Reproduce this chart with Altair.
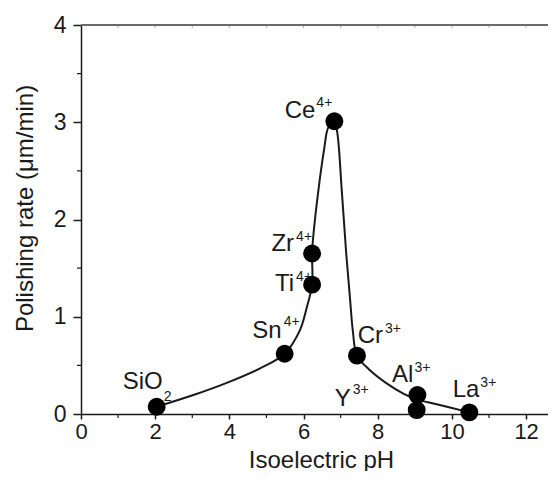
import altair as alt
import pandas as pd

# ---- data ----
names = ["SiO2", "Sn", "Ti", "Zr", "Ce", "Cr", "Al", "Y", "La"]
ph = [2.04, 5.49, 6.23, 6.23, 6.83, 7.44, 9.07, 9.05, 10.47]
rate = [0.075, 0.62, 1.33, 1.65, 3.01, 0.60, 0.195, 0.04, 0.017]
base_text = ["SiO", "Sn", "Ti", "Zr", "Ce", "Cr", "Al", "Y", "La"]
script_text = ["2", "4+", "4+", "4+", "4+", "3+", "3+", "3+", "3+"]

# guide curve drawn through the points
curve_ph = [2.04, 3.03, 3.93, 4.83, 5.49, 5.90, 6.09, 6.23, 6.23, 6.26, 6.40, 6.55,
            6.67, 6.83, 6.91, 7.03, 7.15, 7.25, 7.33, 7.44, 7.79, 8.24, 8.69, 9.05,
            9.59, 10.47]
curve_rate = [0.075, 0.195, 0.32, 0.47, 0.62, 0.86, 1.10, 1.33, 1.65, 1.82, 2.30, 2.71,
              2.95, 3.01, 2.89, 2.30, 1.65, 1.20, 0.85, 0.60, 0.45, 0.315, 0.21, 0.15,
              0.10, 0.017]

x_ticks = [0, 2, 4, 6, 8, 10, 12]
x_minor = [1, 3, 5, 7, 9, 11]
x_top = [1, 2, 3, 4, 5, 6, 7, 8, 9, 10, 11, 12]
y_ticks = [0, 1, 2, 3, 4]
y_minor = [0.5, 1.5, 2.5, 3.5]

# ---- layout / style ----
W, H = 467, 389
FONT = "Liberation Sans"
INK = "#1a1a1a"
xs = alt.Scale(domain=[0, 12.59], nice=False, zero=False)
ys = alt.Scale(domain=[0, 4], nice=False)

x_axis = alt.Axis(values=x_ticks, grid=False, tickSize=5, tickColor=INK,
                  tickWidth=1.5, domainColor=INK, domainWidth=1.5,
                  labelFont=FONT, labelFontSize=22, labelColor=INK,
                  labelPadding=2, labelFlush=False,
                  titleFont=FONT, titleFontSize=24, titleFontWeight="normal",
                  titleColor=INK, titleBaseline="alphabetic", titleAlign="center",
                  titleX=240, titleY=53)
y_axis = alt.Axis(values=y_ticks, grid=False, tickSize=8, tickColor=INK,
                  tickWidth=1.5, domainColor=INK, domainWidth=1.5,
                  labelFont=FONT, labelFontSize=23, labelColor=INK,
                  labelPadding=7, labelFlush=False,
                  titleFont=FONT, titleFontSize=24, titleFontWeight="normal",
                  titleColor=INK, titleAngle=270, titleBaseline="bottom",
                  titleAlign="center", titleX=-44, titleY=183)

X = alt.X("ph:Q", scale=xs, title="Isoelectric pH", axis=x_axis)
Y = alt.Y("rate:Q", scale=ys, title="Polishing rate (μm/min)", axis=y_axis)

pts = pd.DataFrame({"name": names, "ph": ph, "rate": rate,
                    "base": base_text, "script": script_text})
curve = pd.DataFrame({"ph": curve_ph, "rate": curve_rate,
                      "order": list(range(len(curve_ph)))})

line = alt.Chart(curve).mark_line(color=INK, strokeWidth=2, interpolate="catmull-rom").encode(
    x=X, y=Y, order="order:Q")

points = alt.Chart(pts).mark_circle(color="#000", opacity=1, size=320).encode(x=X, y=Y)

# label offsets (pixels): base right-edge dx, base dy, script left dx, script dy
label_style = {
    "SiO2": (6, -18, 7, -6),
    "Sn": (-3, -16, -1, -28),
    "Ti": (-18, 6, -16, -4),
    "Zr": (-18, -3, -16, -13),
    "Ce": (-19, -3, -18, -14),
    "Cr": (26, -13, 28, -23),
    "Al": (-4, -13, -3, -23),
    "Y": (-66, -4, -64, -16),
    "La": (10, -15, 11, -25),
}

labels = []
for nm, (bdx, bdy, sdx, sdy) in label_style.items():
    base = alt.Chart(pts).transform_filter(alt.datum.name == nm).mark_text(
        font=FONT, fontSize=24, color=INK, align="right", baseline="alphabetic",
        dx=bdx, dy=bdy).encode(x=X, y=Y, text="base:N")
    sup = alt.Chart(pts).transform_filter(alt.datum.name == nm).mark_text(
        font=FONT, fontSize=14, color=INK, align="left", baseline="alphabetic",
        dx=sdx, dy=sdy).encode(x=X, y=Y, text="script:N")
    labels += [base, sup]

xminor = alt.Chart(pd.DataFrame({"ph": x_minor})).mark_rule(color=INK, strokeWidth=1.2).encode(
    x=X, y=alt.value(H), y2=alt.value(H + 4))
xtop = alt.Chart(pd.DataFrame({"ph": x_top})).mark_rule(color="#aaa", strokeWidth=1).encode(
    x=X, y=alt.value(0), y2=alt.value(3))
yminor = alt.Chart(pd.DataFrame({"rate": y_minor})).mark_rule(color=INK, strokeWidth=1.2).encode(
    y=Y, x=alt.value(-4), x2=alt.value(0))
top_frame = alt.Chart(pd.DataFrame({"rate": [4]})).mark_rule(color="#6b6b6b", strokeWidth=2).encode(
    y=Y, x=alt.value(0), x2=alt.value(W))

chart = alt.layer(line, points, *labels, xminor, xtop, yminor, top_frame).properties(
    width=W, height=H,
    autosize=alt.AutoSizeParams(type="none"),
    padding={"left": 73, "top": 17, "right": 0, "bottom": 57},
).configure_view(strokeWidth=0).configure(background="white")

chart.save("out.html", embed_options={"renderer": "svg", "actions": False})
